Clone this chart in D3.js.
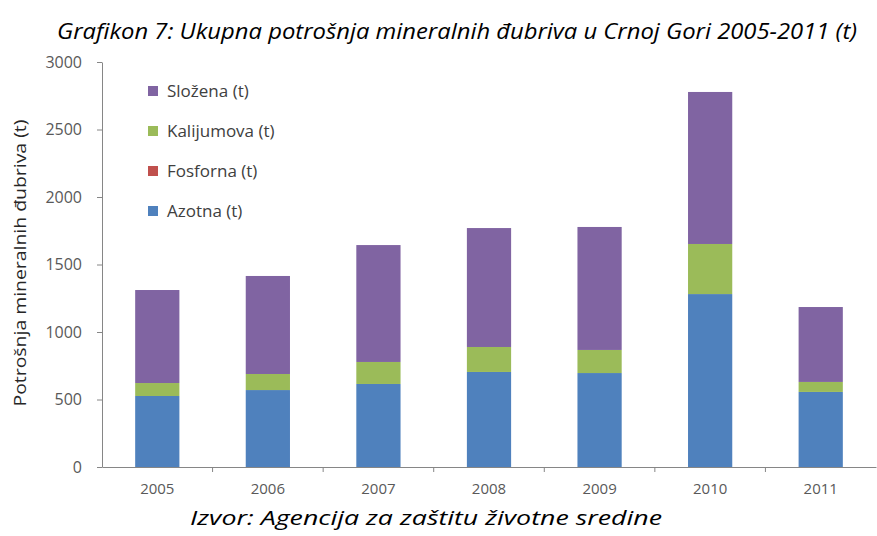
<!DOCTYPE html>
<html>
<head>
<meta charset="utf-8">
<script src="https://cdn.jsdelivr.net/npm/d3@7"></script>
<style>
  body { margin: 0; background: #fff; }
  text { font-family: "Open Sans", "Noto Sans", sans-serif; }
</style>
</head>
<body>
<script>
// data (tonnes)
var years = ['2005', '2006', '2007', '2008', '2009', '2010', '2011'];
var azotna = [526, 570, 615, 704, 696, 1281, 556];
var fosforna = [0, 0, 0, 0, 0, 0, 0];
var kalijumova = [96, 119, 163, 185, 171, 371, 74];
var slozena = [689, 726, 866, 881, 911, 1126, 555];
var seriesNames = ['Azotna (t)', 'Fosforna (t)', 'Kalijumova (t)', 'Složena (t)'];
var yTicks = [0, 500, 1000, 1500, 2000, 2500, 3000];

var width = 877, height = 536;
var margin = {left: 102, top: 62, right: 1, bottom: 69};

var rows = years.map(function(y, i) {
    return {year: y, 'Azotna (t)': azotna[i], 'Fosforna (t)': fosforna[i],
            'Kalijumova (t)': kalijumova[i], 'Složena (t)': slozena[i]};
});

var x = d3.scaleBand()
        .domain(years)
        .range([margin.left, width - margin.right])
        .paddingInner(0.6)
        .paddingOuter(0.3),
    y = d3.scaleLinear()
        .domain([0, 3000])
        .range([height - margin.bottom, margin.top]),
    color = d3.scaleOrdinal()
        .domain(seriesNames)
        .range(['#4f81bd', '#c0504d', '#9bbb59', '#8064a2']);

var svg = d3.select('body').append('svg')
    .attr('width', width)
    .attr('height', height);

var stacked = d3.stack().keys(seriesNames)(rows);

// bars
svg.selectAll('.layer')
        .data(stacked)
    .enter().append('g')
        .attr('class', 'layer')
        .attr('fill', function(d) { return color(d.key); })
    .selectAll('rect')
        .data(function(d) { return d; })
    .enter().append('rect')
        .attr('x', function(d) { return x(d.data.year); })
        .attr('y', function(d) { return y(d[1]); })
        .attr('width', x.bandwidth())
        .attr('height', function(d) { return y(d[0]) - y(d[1]); });

// y axis
var yAxis = svg.append('g')
    .attr('transform', 'translate(' + margin.left + ',0)')
    .call(d3.axisLeft(y).tickValues(yTicks).tickFormat(d3.format('d'))
        .tickSize(5).tickSizeOuter(0).tickPadding(15));
yAxis.selectAll('.tick text').style('font-size', '16px');

// x axis, ticks between categories
var xAxis = svg.append('g')
    .attr('transform', 'translate(0,' + y(0) + ')')
    .call(d3.axisBottom(x).tickSize(0).tickPadding(16));
xAxis.selectAll('.tick text').style('font-size', '15px');
xAxis.selectAll('.sep')
        .data(years.slice(1))
    .enter().append('line')
        .attr('class', 'sep')
        .attr('x1', function(d) { return x(d) - x.step() * x.paddingInner() / 2; })
        .attr('x2', function(d) { return x(d) - x.step() * x.paddingInner() / 2; })
        .attr('y1', 0)
        .attr('y2', 5);

svg.selectAll('.domain, .tick line, .sep')
    .attr('stroke', '#868686');
svg.selectAll('.tick text')
    .attr('fill', '#595959');

// y axis title
svg.append('text')
    .attr('transform', 'translate(26,263) rotate(-90)')
    .attr('text-anchor', 'middle')
    .attr('fill', '#262626')
    .attr('textLength', 287)
    .attr('lengthAdjust', 'spacingAndGlyphs')
    .style('font-size', '16.5px')
    .text('Potrošnja mineralnih đubriva (t)');

// legend, top to bottom is the stack reversed
var legend = svg.selectAll('.legend')
        .data(seriesNames.slice().reverse())
    .enter().append('g')
        .attr('class', 'legend')
        .attr('transform', function(d, i) { return 'translate(148,' + (91 + i * 40) + ')'; });
legend.append('rect')
    .attr('x', 0).attr('y', -5)
    .attr('width', 10).attr('height', 10)
    .attr('fill', function(d) { return color(d); });
legend.append('text')
    .attr('x', 19)
    .attr('dy', '0.35em')
    .attr('fill', '#404040')
    .style('font-size', '17px')
    .text(function(d) { return d; });

// title and source
svg.append('text')
    .attr('x', 457).attr('y', 39)
    .attr('text-anchor', 'middle')
    .attr('textLength', 800)
    .attr('lengthAdjust', 'spacingAndGlyphs')
    .style('font-size', '21px')
    .style('font-style', 'italic')
    .attr('fill', '#000')
    .text('Grafikon 7: Ukupna potrošnja mineralnih đubriva u Crnoj Gori 2005-2011 (t)');

svg.append('text')
    .attr('x', 426).attr('y', 525)
    .attr('text-anchor', 'middle')
    .attr('textLength', 472)
    .attr('lengthAdjust', 'spacingAndGlyphs')
    .style('font-size', '20px')
    .style('font-style', 'italic')
    .attr('fill', '#000')
    .text('Izvor: Agencija za zaštitu životne sredine');
</script>
</body>
</html>
